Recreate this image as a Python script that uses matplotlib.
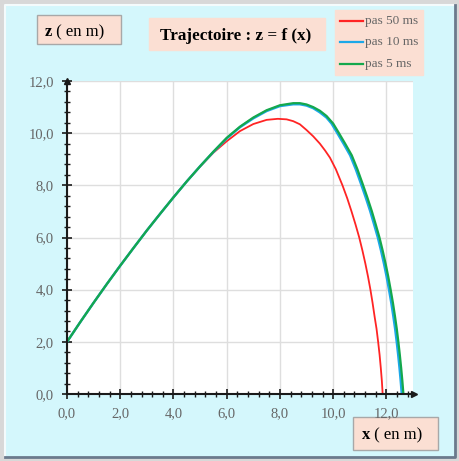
import matplotlib
matplotlib.use('Agg')
import matplotlib.pyplot as plt
from matplotlib.patches import Rectangle
from matplotlib.lines import Line2D
from matplotlib.ticker import MultipleLocator, FuncFormatter

# pas 50 ms
x_50 = [0, 0.5, 1, 1.5, 2, 2.5, 3, 3.5, 4, 4.5, 5, 5.5, 6, 6.5, 7, 7.5, 7.92,
        8.25, 8.5, 8.75, 9.0, 9.25, 9.5, 9.7, 9.88, 10.1, 10.35, 10.53, 10.69, 10.84, 10.98,
        11.1, 11.21, 11.31, 11.4, 11.48, 11.56, 11.63, 11.69, 11.745, 11.79, 11.83, 11.86]
z_50 = [2.0, 2.76, 3.5, 4.22, 4.92, 5.6, 6.27, 6.91, 7.54, 8.15, 8.72, 9.25, 9.69, 10.08, 10.35, 10.51, 10.55,
        10.53, 10.46, 10.34, 10.12, 9.88, 9.6, 9.33, 9.06, 8.62, 8.0, 7.5, 7.0, 6.5, 6.0,
        5.5, 5.0, 4.5, 4.0, 3.5, 2.95, 2.5, 2.0, 1.5, 1.0, 0.5, 0.0]

# pas 10 ms
x_10 = [0, 0.5, 1, 1.5, 2, 2.5, 3, 3.5, 4, 4.5, 5, 5.5, 6, 6.5, 7, 7.5, 8, 8.5, 8.75,
        9.0, 9.25, 9.5, 9.75, 9.94, 10.13, 10.39, 10.64, 10.85, 11.04, 11.22, 11.39, 11.54, 11.68,
        11.8, 11.91, 12.01, 12.1, 12.185, 12.26, 12.33, 12.39, 12.445, 12.495, 12.54, 12.58]
z_10 = [2.0, 2.76, 3.5, 4.22, 4.92, 5.6, 6.27, 6.91, 7.54, 8.15, 8.73, 9.28, 9.8, 10.23, 10.57, 10.85, 11.04, 11.11, 11.11,
        11.06, 10.96, 10.8, 10.6, 10.37, 10.05, 9.6, 9.15, 8.62, 8.08, 7.55, 7.02, 6.5, 6.0,
        5.5, 5.0, 4.5, 4.0, 3.5, 3.0, 2.5, 2.0, 1.5, 1.0, 0.5, 0.0]

# pas 5 ms
x_5 = [0, 0.5, 1, 1.5, 2, 2.5, 3, 3.5, 4, 4.5, 5, 5.5, 6, 6.5, 7, 7.5, 8, 8.5, 8.75,
       9.0, 9.25, 9.5, 9.75, 10.0, 10.19, 10.45, 10.7, 10.91, 11.1, 11.28, 11.45, 11.6, 11.74,
       11.86, 11.97, 12.07, 12.16, 12.245, 12.32, 12.39, 12.45, 12.505, 12.555, 12.6, 12.64]
z_5 = [2.0, 2.76, 3.5, 4.22, 4.92, 5.6, 6.27, 6.91, 7.54, 8.15, 8.73, 9.29, 9.82, 10.25, 10.6, 10.88, 11.07, 11.15, 11.15,
       11.1, 11.0, 10.86, 10.66, 10.37, 10.05, 9.6, 9.15, 8.62, 8.08, 7.55, 7.02, 6.5, 6.0,
       5.5, 5.0, 4.5, 4.0, 3.5, 3.0, 2.5, 2.0, 1.5, 1.0, 0.5, 0.0]

series_labels = ['pas 50 ms', 'pas 10 ms', 'pas 5 ms']
series_colors = ['#FF2424', '#1CA8E8', '#14A84C']
series_widths = [1.3, 1.8, 1.6]

W, H = 459, 461
PANEL = '#D4F7FC'
BOX = '#FBDFD3'


def px(x, y):
    # pixel coords (top-left origin) -> figure fraction
    return x / W, 1 - y / H


def box(fig, x0, y0, x1, y1, edge=None):
    fx, fy = px(x0, y1)
    r = Rectangle((fx, fy), (x1 - x0) / W, (y1 - y0) / H, transform=fig.transFigure,
                  facecolor=BOX, edgecolor=edge or BOX, lw=1.0, zorder=1)
    fig.patches.append(r)


def comma(v, pos):
    return ('%.1f' % v).replace('.', ',')


plt.rcParams['font.family'] = ['Liberation Serif', 'DejaVu Serif']

fig = plt.figure(figsize=(W / 100, H / 100), dpi=100, facecolor='#D8D8D8')

# light cyan panel with bevelled edge
fx, fy = px(5, 457)
fig.patches.append(Rectangle((fx, fy), 450 / W, 452 / H, transform=fig.transFigure,
                             facecolor=PANEL, edgecolor='none', zorder=0))
fig.lines.append(Line2D([px(5, 0)[0], px(5, 0)[0], px(455, 0)[0]],
                        [px(0, 457)[1], px(0, 5)[1], px(0, 5)[1]],
                        transform=fig.transFigure, color='#F4FBFC', lw=1.5))
fig.lines.append(Line2D([px(5, 0)[0], px(455, 0)[0], px(455, 0)[0]],
                        [px(0, 457)[1], px(0, 457)[1], px(0, 5)[1]],
                        transform=fig.transFigure, color='#6B7A8C', lw=2.0))

# plot area
l, b = px(67, 394)
ax = fig.add_axes([l, b, (413 - 67) / W, (394 - 81) / H])
ax.set_zorder(3)
ax.set_facecolor('white')
ax.set_xlim(0, 13)
ax.set_ylim(0, 12)

for xs, zs, lab, col, lw in zip([x_50, x_10, x_5], [z_50, z_10, z_5],
                                series_labels, series_colors, series_widths):
    ax.plot(xs, zs, color=col, lw=lw, label=lab, solid_capstyle='round',
            solid_joinstyle='round')

ax.xaxis.set_major_locator(MultipleLocator(2))
ax.xaxis.set_minor_locator(MultipleLocator(0.4))
ax.yaxis.set_major_locator(MultipleLocator(2))
ax.yaxis.set_minor_locator(MultipleLocator(0.4))
ax.xaxis.set_major_formatter(FuncFormatter(comma))
ax.yaxis.set_major_formatter(FuncFormatter(comma))
ax.grid(True, which='major', color='#DEDEDE', lw=1.0)
ax.set_axisbelow(True)

for side in ('top', 'right'):
    ax.spines[side].set_visible(False)
for side in ('left', 'bottom'):
    ax.spines[side].set_color('#1A1A1A')
    ax.spines[side].set_linewidth(1.5)

ax.tick_params(which='major', direction='inout', length=7, width=1.2, color='#1A1A1A',
               labelsize=10.5, labelcolor='#666666', pad=6)
ax.tick_params(which='minor', direction='inout', length=4, width=1.0, color='#1A1A1A')
ax.plot(1.003, 0, marker='>', color='#1A1A1A', ms=5, transform=ax.transAxes, clip_on=False)
ax.plot(0, 1.0, marker='^', color='#1A1A1A', ms=5, transform=ax.transAxes, clip_on=False)

# axis label boxes and title
box(fig, 37, 15, 121, 44, edge='#A8A8A8')
fig.text(*px(45, 36), 'z', fontsize=12, fontweight='bold', va='baseline', ha='left')
fig.text(*px(52.5, 36), ' ( en m)', fontsize=12, va='baseline', ha='left')

box(fig, 149, 18, 325, 50)
fig.text(*px(236, 40), 'Trajectoire : z = f (x)', fontsize=12.3, fontweight='bold',
         va='baseline', ha='center')

box(fig, 353, 417, 438, 450, edge='#A8A8A8')
fig.text(*px(362, 439), 'x', fontsize=12, fontweight='bold', va='baseline', ha='left')
fig.text(*px(370, 439), ' ( en m)', fontsize=12, va='baseline', ha='left')

# legend
box(fig, 335, 10, 423, 75)
for i, (lab, col) in enumerate(zip(series_labels, series_colors)):
    yy = 21 + i * 21.5
    xa, ya = px(340, yy)
    xb, _ = px(363, yy)
    fig.lines.append(Line2D([xa, xb], [ya, ya], transform=fig.transFigure,
                            color=col, lw=1.6))
    fig.text(*px(365, yy), lab, fontsize=9.5, color='#666666', va='center', ha='left')

fig.savefig('out.png', dpi=100, facecolor=fig.get_facecolor())
